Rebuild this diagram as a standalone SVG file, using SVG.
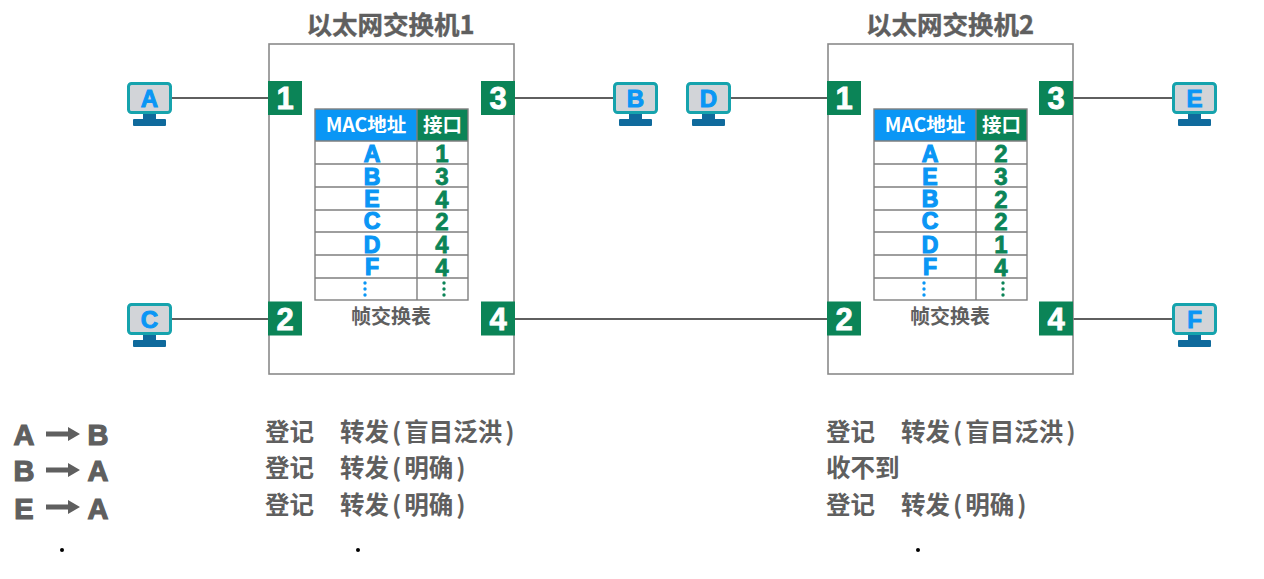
<svg xmlns="http://www.w3.org/2000/svg" width="1264" height="579" viewBox="0 0 1264 579">
<style>
text{font-family:"Liberation Sans","Noto Sans CJK SC",sans-serif;text-anchor:middle}
.cjk{font-family:"Noto Sans CJK SC","Liberation Sans",sans-serif;font-weight:700;fill:#5f5f5f}
.title{font-size:25.500px;stroke:#5f5f5f;stroke-width:.4}
.log{font-size:24.500px;text-anchor:start}
.sw{fill:#fff;stroke:#8a8a8a;stroke-width:1.6}
.link{stroke:#5f5f5f;stroke-width:2.2;fill:none}
.port{fill:#0b8457}
.pt{font-size:31px;font-weight:700;fill:#fff;stroke:#fff;stroke-width:.8}
.grid{stroke:#7f7f7f;stroke-width:1.4;fill:none}
.hm{fill:#0a96f5}.hp{fill:#0b8457}
.ht{font-size:19.500px;font-weight:700;fill:#fff;font-family:"Noto Sans CJK SC","Liberation Sans",sans-serif}
.m{font-size:23px;font-weight:700;fill:#0a96f5;stroke:#0a96f5;stroke-width:1.200}
.p{font-size:24px;font-weight:700;fill:#0b8457;stroke:#0b8457;stroke-width:.8}
.dm{fill:#0a96f5}.dp{fill:#0b8457}
.scr{fill:#d2d4d8;stroke:#16a3ad;stroke-width:3}
.st{fill:#0f6a9c}
.pc{font-size:24px;font-weight:700;fill:#0a96f5;stroke:#0a96f5;stroke-width:1}
.seq{font-size:29px;font-weight:700;fill:#5f5f5f;stroke:#5f5f5f;stroke-width:1.2}
.ar{fill:#5f5f5f}
.cap{font-size:20px}
</style>
<defs>
<g id="mon"><rect class="scr" x="1.500" y="1.500" width="42" height="29" rx="3"/><rect class="st" x="16" y="32" width="13" height="6"/><rect class="st" x="6" y="37" width="33" height="7" rx="1"/></g>
<g id="tbl"><rect class="hm" x="0" y="0" width="102" height="32"/><rect class="hp" x="102" y="0" width="51" height="32"/><rect class="grid" x="0" y="0" width="153" height="191"/><path class="grid" d="M102 0V191M0 32H153M0 55H153M0 78H153M0 101H153M0 123H153M0 146H153M0 169H153"/><text class="ht" x="51" y="23">MAC地址</text><text class="ht" x="127.500" y="23">接口</text><g class="dm"><circle cx="50" cy="174" r="1.700"/><circle cx="50" cy="180" r="1.700"/><circle cx="50" cy="186" r="1.700"/></g><g class="dp"><circle cx="129" cy="174" r="1.700"/><circle cx="129" cy="180" r="1.700"/><circle cx="129" cy="186" r="1.700"/></g></g>
<path id="arw" class="ar" d="M0 -2.500H22V-7L34 0L22 7V2.500H0Z"/>
</defs>
<rect width="1264" height="579" fill="#fff"/>
<g id="connectors">
<path class="link" d="M172 98H269M514 98H613M172 319H269M514 319H828M731 98H828M1073 98H1172M1073 319H1172"/>
</g>
<g id="switch1">
<rect class="sw" x="269" y="44" width="245" height="330"/>
<text class="cjk title" x="390.500" y="34">以太网交换机1</text>
</g>
<g id="switch2">
<rect class="sw" x="828" y="44" width="245" height="330"/>
<text class="cjk title" x="950" y="34">以太网交换机2</text>
</g>
<g id="s1-port1"><rect class="port" x="268" y="81" width="34" height="34"/><text class="pt" x="285" y="109">1</text></g>
<g id="s1-port2"><rect class="port" x="268" y="301.500" width="34" height="34"/><text class="pt" x="285" y="329.500">2</text></g>
<g id="s1-port3"><rect class="port" x="481" y="81" width="34" height="34"/><text class="pt" x="498" y="109">3</text></g>
<g id="s1-port4"><rect class="port" x="481" y="301.500" width="34" height="34"/><text class="pt" x="498" y="329.500">4</text></g>
<g id="s2-port1"><rect class="port" x="827" y="81" width="34" height="34"/><text class="pt" x="844" y="109">1</text></g>
<g id="s2-port2"><rect class="port" x="827" y="301.500" width="34" height="34"/><text class="pt" x="844" y="329.500">2</text></g>
<g id="s2-port3"><rect class="port" x="1039" y="81" width="34" height="34"/><text class="pt" x="1056" y="109">3</text></g>
<g id="s2-port4"><rect class="port" x="1039" y="301.500" width="34" height="34"/><text class="pt" x="1056" y="329.500">4</text></g>
<g id="table1">
<use href="#tbl" x="315" y="109"/>
<text class="m" x="372" y="162">A</text><text class="p" x="442" y="162">1</text>
<text class="m" x="372" y="185">B</text><text class="p" x="442" y="185">3</text>
<text class="m" x="372" y="207">E</text><text class="p" x="442" y="207.500">4</text>
<text class="m" x="372" y="229">C</text><text class="p" x="442" y="230">2</text>
<text class="m" x="372" y="252.500">D</text><text class="p" x="442" y="253">4</text>
<text class="m" x="372" y="275">F</text><text class="p" x="442" y="275.500">4</text>
<text class="cjk cap" x="391" y="324">帧交换表</text>
</g>
<g id="table2">
<use href="#tbl" x="874" y="109"/>
<text class="m" x="930" y="162">A</text><text class="p" x="1001" y="162">2</text>
<text class="m" x="930" y="185">E</text><text class="p" x="1001" y="185">3</text>
<text class="m" x="930" y="207">B</text><text class="p" x="1001" y="207.500">2</text>
<text class="m" x="930" y="229">C</text><text class="p" x="1001" y="230">2</text>
<text class="m" x="930" y="252.500">D</text><text class="p" x="1001" y="253">1</text>
<text class="m" x="930" y="275">F</text><text class="p" x="1001" y="275.500">4</text>
<text class="cjk cap" x="950" y="324">帧交换表</text>
</g>
<g id="host-A"><use href="#mon" x="127" y="82"/><text class="pc" x="149.500" y="107">A</text></g>
<g id="host-C"><use href="#mon" x="127" y="303"/><text class="pc" x="149.500" y="328">C</text></g>
<g id="host-B"><use href="#mon" x="613" y="82"/><text class="pc" x="635.500" y="107">B</text></g>
<g id="host-D"><use href="#mon" x="686" y="82"/><text class="pc" x="708.500" y="107">D</text></g>
<g id="host-E"><use href="#mon" x="1172" y="82"/><text class="pc" x="1194.500" y="107">E</text></g>
<g id="host-F"><use href="#mon" x="1172" y="303"/><text class="pc" x="1194.500" y="328">F</text></g>
<g id="sequence">
<text class="seq" x="24" y="445">A</text><use href="#arw" x="46" y="434"/><text class="seq" x="98" y="445">B</text>
<text class="seq" x="24" y="481">B</text><use href="#arw" x="46" y="470"/><text class="seq" x="98" y="481">A</text>
<text class="seq" x="24" y="519">E</text><use href="#arw" x="46" y="507"/><text class="seq" x="98" y="519">A</text>
<circle cx="62" cy="550" r="2"/>
</g>
<g id="log1">
<text class="cjk log" x="265" y="441">登记</text><text class="cjk log" x="340" y="441">转发<tspan dx="3">(</tspan><tspan dx="3">盲目泛洪</tspan><tspan dx="3">)</tspan></text>
<text class="cjk log" x="265" y="477">登记</text><text class="cjk log" x="340" y="477">转发<tspan dx="3">(</tspan><tspan dx="3">明确</tspan><tspan dx="3">)</tspan></text>
<text class="cjk log" x="265" y="514">登记</text><text class="cjk log" x="340" y="514">转发<tspan dx="3">(</tspan><tspan dx="3">明确</tspan><tspan dx="3">)</tspan></text>
<circle cx="358" cy="550" r="2"/>
</g>
<g id="log2">
<text class="cjk log" x="826" y="441">登记</text><text class="cjk log" x="901" y="441">转发<tspan dx="3">(</tspan><tspan dx="3">盲目泛洪</tspan><tspan dx="3">)</tspan></text>
<text class="cjk log" x="826" y="477">收不到</text>
<text class="cjk log" x="826" y="514">登记</text><text class="cjk log" x="901" y="514">转发<tspan dx="3">(</tspan><tspan dx="3">明确</tspan><tspan dx="3">)</tspan></text>
<circle cx="918" cy="550" r="2"/>
</g>
</svg>
